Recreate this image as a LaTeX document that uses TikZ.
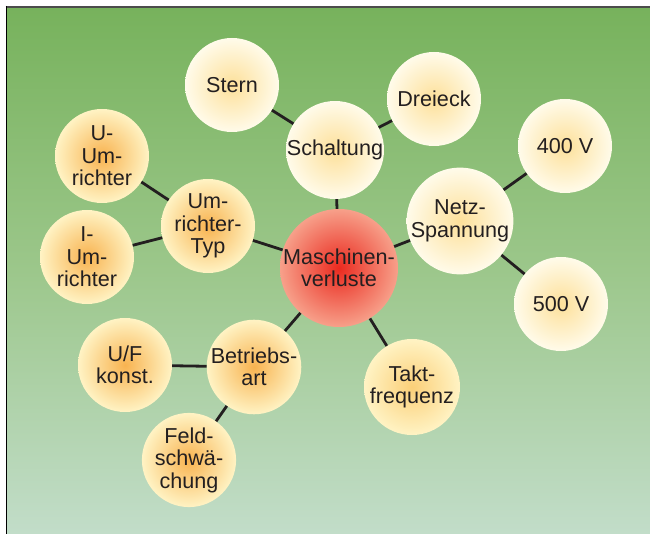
\documentclass[tikz,border=0pt]{standalone}
\usepackage{fontspec}
\setmainfont{Liberation Sans}

\definecolor{bgtop}{HTML}{77B25C}
\definecolor{bgmid}{HTML}{9CC78B}
\definecolor{bgbot}{HTML}{C2DDC9}
\definecolor{ink}{HTML}{231F20}
\definecolor{paleIn}{HTML}{FDE09A}
\definecolor{paleOut}{HTML}{FFFBEA}
\definecolor{orIn}{HTML}{F8B350}
\definecolor{orOut}{HTML}{FFF3C4}
\definecolor{midIn}{HTML}{FBCF78}
\definecolor{redIn}{HTML}{EA2A1F}
\definecolor{redOut}{HTML}{F7A08A}

\tikzset{
  bubble/.style={circle, inner sep=0pt, minimum size=94pt, align=center,
    text=ink, font=\fontsize{21.6}{22.5}\selectfont, shading=radial},
  pale/.style={bubble, inner color=paleIn, outer color=paleOut},
  warm/.style={bubble, inner color=orIn, outer color=orOut},
  midwarm/.style={bubble, inner color=midIn, outer color=orOut},
  hub/.style={bubble, minimum size=118pt, inner color=redIn, outer color=redOut},
  link/.style={draw=ink, line width=2.8pt}
}

\begin{document}
\begin{tikzpicture}[x=1pt, y=-1pt]
  \useasboundingbox (0,0) rectangle (650,534);
  % panel with vertical green gradient
  \shade[top color=bgtop, bottom color=bgbot, middle color=bgmid]
    (6.5,7) rectangle (650,534);
  \draw[line width=2pt, color=black!70] (5.5,7) -- (650,7);
  \draw[line width=1.5pt, color=black] (6.5,6) -- (6.5,534);

  % bubbles
  \node[hub]  (masch)   at (339,268) {Maschinen-\\verluste};
  \node[pale] (stern)   at (232,85)  {Stern};
  \node[pale, minimum size=96pt] (schalt) at (335,150) {Schaltung};
  \node[pale] (dreieck) at (434,99)  {Dreieck};
  \node[pale] (vA)      at (565,146) {400 V};
  \node[pale, minimum size=104pt] (netz) at (460,221) {Netz-\\Spannung};
  \node[pale] (vB)      at (561,304) {500 V};
  \node[midwarm, minimum size=96pt] (takt) at (412,387) {Takt-\\frequenz};
  \node[warm] (uf)      at (125,365) {U/F\\konst.};
  \node[warm] (betr)    at (254,367) {Betriebs-\\art};
  \node[warm] (feld)    at (189,460) {Feld-\\schwä-\\chung};
  \node[warm] (uum)     at (102,156) {U-\\Um-\\richter};
  \node[warm] (ium)     at (87,257)  {I-\\Um-\\richter};
  \node[warm] (utyp)    at (208,226) {Um-\\richter-\\Typ};

  % connectors, border to border
  \path[link] (stern) -- (schalt);
  \path[link] (schalt) -- (dreieck);
  \path[link] (schalt) -- (masch);
  \path[link] (netz) -- (vA);
  \path[link] (netz) -- (vB);
  \path[link] (netz) -- (masch);
  \path[link] (masch) -- (takt);
  \path[link] (masch) -- (betr);
  \path[link] (betr) -- (uf);
  \path[link] (betr) -- (feld);
  \path[link] (masch) -- (utyp);
  \path[link] (utyp) -- (uum);
  \path[link] (utyp) -- (ium);
\end{tikzpicture}
\end{document}
